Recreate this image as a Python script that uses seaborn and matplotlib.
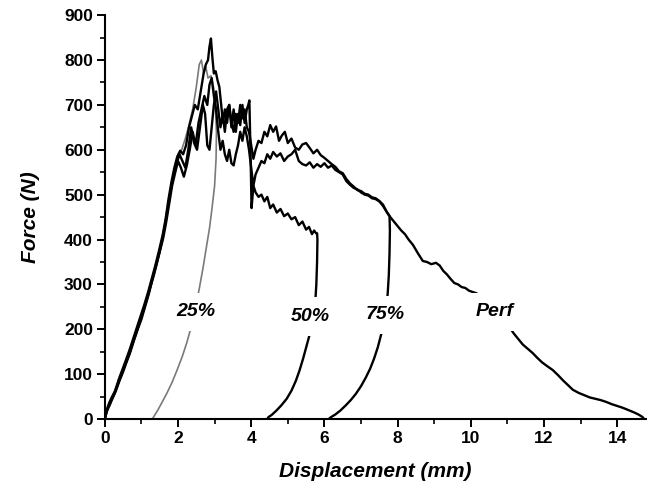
import numpy as np
import pandas as pd
import matplotlib
matplotlib.use("Agg")
import matplotlib.pyplot as plt
import seaborn as sns
from matplotlib.ticker import MultipleLocator

# force-displacement traces (mm, N)
curve_25 = [(0, 0), (0.08, 22), (0.16, 40), (0.3, 70), (0.45, 100), (0.6, 130), (0.75, 165),
            (0.9, 200), (1.05, 240), (1.2, 280), (1.35, 320), (1.5, 370), (1.62, 420), (1.75, 480),
            (1.88, 545), (2.0, 580), (2.1, 600), (2.2, 625), (2.3, 655), (2.4, 690), (2.5, 740),
            (2.58, 790), (2.64, 800), (2.7, 770), (2.76, 785), (2.82, 760), (2.9, 765), (2.97, 740),
            (3.02, 700), (3.05, 640), (3.04, 580), (3.0, 520), (2.93, 470), (2.86, 425), (2.78, 385),
            (2.68, 335), (2.58, 290), (2.47, 245), (2.36, 205), (2.24, 170), (2.12, 140), (1.98, 110),
            (1.84, 82), (1.7, 58), (1.57, 38), (1.45, 20), (1.36, 8), (1.3, 0)]

curve_50 = [(0, 0), (0.05, 20), (0.12, 36), (0.2, 50), (0.28, 62), (0.38, 88), (0.48, 110),
            (0.58, 132), (0.68, 155), (0.78, 180), (0.88, 205), (0.98, 230), (1.08, 255), (1.18, 282),
            (1.28, 312), (1.38, 342), (1.48, 375), (1.58, 410), (1.66, 445), (1.74, 490), (1.82, 528),
            (1.9, 560), (1.98, 585), (2.06, 598), (2.14, 590), (2.22, 610), (2.3, 650), (2.38, 675),
            (2.46, 700), (2.54, 690), (2.62, 730), (2.7, 770), (2.76, 790), (2.82, 800), (2.86, 830),
            (2.9, 848), (2.94, 805), (2.98, 770), (3.03, 775), (3.08, 755), (3.13, 740), (3.18, 700),
            (3.23, 660), (3.28, 690), (3.34, 660), (3.4, 700), (3.46, 650), (3.52, 690), (3.58, 640),
            (3.64, 680), (3.7, 655), (3.76, 700), (3.82, 660), (3.88, 690), (3.92, 700), (3.95, 710),
            (3.98, 600), (4.01, 470), (4.06, 520), (4.12, 505), (4.2, 495), (4.28, 500), (4.36, 485),
            (4.44, 495), (4.52, 470), (4.6, 478), (4.7, 460), (4.8, 468), (4.9, 452), (5.0, 458),
            (5.1, 445), (5.2, 450), (5.3, 432), (5.4, 440), (5.5, 422), (5.58, 428), (5.66, 412),
            (5.72, 420), (5.77, 414), (5.8, 414), (5.81, 400), (5.8, 350), (5.78, 300), (5.75, 260),
            (5.7, 225), (5.62, 195), (5.52, 165), (5.42, 135), (5.32, 108), (5.22, 85), (5.1, 63),
            (4.97, 45), (4.82, 30), (4.68, 18), (4.56, 9), (4.47, 4), (4.44, 0)]

curve_75 = [(0, 0), (0.06, 18), (0.14, 32), (0.22, 48), (0.3, 62), (0.4, 85), (0.5, 105), (0.6, 128),
            (0.7, 150), (0.8, 176), (0.9, 200), (1.0, 222), (1.1, 250), (1.2, 278), (1.3, 310),
            (1.4, 340), (1.5, 372), (1.6, 405), (1.68, 440), (1.76, 480), (1.84, 520), (1.92, 548),
            (2.0, 575), (2.08, 560), (2.16, 540), (2.24, 565), (2.32, 600), (2.4, 640), (2.48, 610),
            (2.56, 660), (2.64, 690), (2.72, 720), (2.8, 700), (2.86, 745), (2.92, 760), (2.98, 720),
            (3.04, 690), (3.1, 640), (3.16, 600), (3.22, 620), (3.28, 590), (3.34, 575), (3.4, 600),
            (3.46, 570), (3.52, 565), (3.58, 590), (3.64, 610), (3.7, 640), (3.76, 620), (3.82, 650),
            (3.88, 630), (3.94, 600), (4.0, 560), (4.06, 520), (4.12, 545), (4.2, 560), (4.28, 575),
            (4.36, 570), (4.44, 590), (4.52, 580), (4.6, 595), (4.7, 585), (4.8, 592), (4.9, 575),
            (5.0, 585), (5.1, 590), (5.2, 600), (5.3, 575), (5.4, 568), (5.5, 565), (5.6, 572),
            (5.7, 560), (5.8, 568), (5.9, 562), (6.0, 570), (6.1, 560), (6.2, 565), (6.3, 555),
            (6.4, 550), (6.5, 545), (6.6, 530), (6.7, 522), (6.8, 515), (6.9, 512), (7.0, 505),
            (7.1, 500), (7.2, 498), (7.3, 492), (7.4, 490), (7.5, 485), (7.6, 475), (7.7, 462),
            (7.78, 452), (7.79, 420), (7.78, 370), (7.76, 320), (7.73, 280), (7.69, 245), (7.63, 215),
            (7.55, 188), (7.46, 160), (7.36, 135), (7.25, 112), (7.13, 92), (7.0, 73), (6.86, 56),
            (6.72, 42), (6.58, 30), (6.44, 19), (6.3, 10), (6.18, 4), (6.12, 0)]

curve_perf = [(0, 0), (0.04, 14), (0.1, 28), (0.18, 42), (0.26, 55), (0.36, 78), (0.46, 100),
              (0.56, 122), (0.66, 142), (0.76, 168), (0.86, 192), (0.96, 218), (1.06, 244),
              (1.16, 270), (1.26, 300), (1.36, 330), (1.46, 362), (1.56, 395), (1.64, 430),
              (1.72, 470), (1.8, 510), (1.88, 545), (1.96, 568), (2.04, 590), (2.12, 575),
              (2.2, 560), (2.28, 600), (2.36, 650), (2.44, 615), (2.52, 600), (2.6, 650), (2.68, 700),
              (2.74, 680), (2.8, 610), (2.86, 600), (2.92, 650), (2.98, 700), (3.04, 730), (3.1, 690),
              (3.16, 650), (3.22, 680), (3.28, 640), (3.34, 690), (3.4, 700), (3.46, 660), (3.52, 640),
              (3.58, 680), (3.64, 660), (3.7, 700), (3.76, 670), (3.82, 690), (3.88, 650), (3.94, 640),
              (4.0, 610), (4.06, 580), (4.12, 600), (4.2, 620), (4.28, 615), (4.36, 640), (4.44, 630),
              (4.52, 655), (4.6, 640), (4.68, 652), (4.76, 620), (4.84, 632), (4.92, 640), (5.0, 615),
              (5.1, 625), (5.2, 605), (5.3, 600), (5.4, 612), (5.5, 615), (5.6, 604), (5.7, 592),
              (5.8, 600), (5.9, 588), (6.0, 582), (6.1, 575), (6.2, 568), (6.3, 562), (6.4, 552),
              (6.5, 548), (6.6, 535), (6.7, 525), (6.8, 518), (6.9, 510), (7.0, 508), (7.1, 502),
              (7.2, 500), (7.3, 494), (7.4, 492), (7.5, 486), (7.6, 478), (7.7, 462), (7.8, 450),
              (7.9, 440), (8.0, 430), (8.1, 420), (8.2, 412), (8.3, 400), (8.42, 388), (8.55, 370),
              (8.69, 352), (8.8, 350), (8.92, 345), (9.05, 348), (9.15, 342), (9.25, 330), (9.35, 322),
              (9.45, 312), (9.55, 303), (9.65, 300), (9.75, 294), (9.85, 292), (9.95, 286),
              (10.05, 283), (10.16, 280), (10.4, 262), (10.6, 245), (10.8, 228), (10.98, 208),
              (11.07, 203), (11.18, 190), (11.3, 178), (11.42, 166), (11.55, 157), (11.69, 147),
              (11.82, 136), (11.95, 126), (12.1, 117), (12.24, 109), (12.38, 98), (12.52, 86),
              (12.66, 75), (12.79, 65), (12.95, 58), (13.1, 53), (13.25, 48), (13.4, 45), (13.55, 42),
              (13.7, 38), (13.85, 33), (14.0, 29), (14.15, 25), (14.3, 20), (14.45, 15), (14.58, 10),
              (14.68, 5), (14.72, 2)]

tests = ["25%", "50%", "75%", "Perf"]
label_x = [2.48, 5.62, 7.67, 10.66]
label_y = [239, 228, 232, 239]

frames = []
for name, pts in zip(tests, [curve_25, curve_50, curve_75, curve_perf]):
    arr = np.array(pts)
    frames.append(pd.DataFrame({"disp": arr[:, 0], "force": arr[:, 1], "test": name}))
df = pd.concat(frames, ignore_index=True)

sns.set_theme(style="ticks")
plt.rcParams["font.family"] = ["Liberation Sans", "DejaVu Sans"]
plt.rcParams.update({"text.color": "black", "axes.labelcolor": "black",
                     "xtick.color": "black", "ytick.color": "black"})

fig = plt.figure(figsize=(6.47, 4.90), dpi=100)
ax = fig.add_axes([0.162, 0.145, 0.836, 0.824])

palette = {"25%": "#7a7a7a", "50%": "black", "75%": "black", "Perf": "black"}
sns.lineplot(data=df, x="disp", y="force", hue="test", palette=palette, sort=False,
             estimator=None, legend=False, linewidth=1.7, ax=ax)
ax.lines[0].set_linewidth(1.2)

for name, lx, ly in zip(tests, label_x, label_y):
    ax.text(lx, ly, name, ha="center", va="center", fontsize=14, fontweight="bold",
            fontstyle="italic", color="black", zorder=5,
            bbox=dict(boxstyle="square,pad=0.55", fc="white", ec="none"))

ax.set_xlim(0, 14.78)
ax.set_ylim(0, 900)
ax.xaxis.set_major_locator(MultipleLocator(2))
ax.xaxis.set_minor_locator(MultipleLocator(1))
ax.yaxis.set_major_locator(MultipleLocator(100))
ax.yaxis.set_minor_locator(MultipleLocator(50))
ax.tick_params(which="major", length=5.5, width=1.4, direction="out", labelsize=12.5, pad=3)
ax.tick_params(which="minor", length=3.5, width=1.2, direction="out")
for lab in ax.get_xticklabels() + ax.get_yticklabels():
    lab.set_fontweight("bold")

sns.despine(ax=ax)
for s in ["left", "bottom"]:
    ax.spines[s].set_linewidth(1.5)
    ax.spines[s].set_color("black")

ax.set_xlabel("Displacement (mm)", fontsize=15, fontweight="bold", fontstyle="italic", labelpad=12)
ax.set_ylabel("Force (N)", fontsize=15, fontweight="bold", fontstyle="italic", labelpad=17)

fig.savefig("out.png", dpi=100)
